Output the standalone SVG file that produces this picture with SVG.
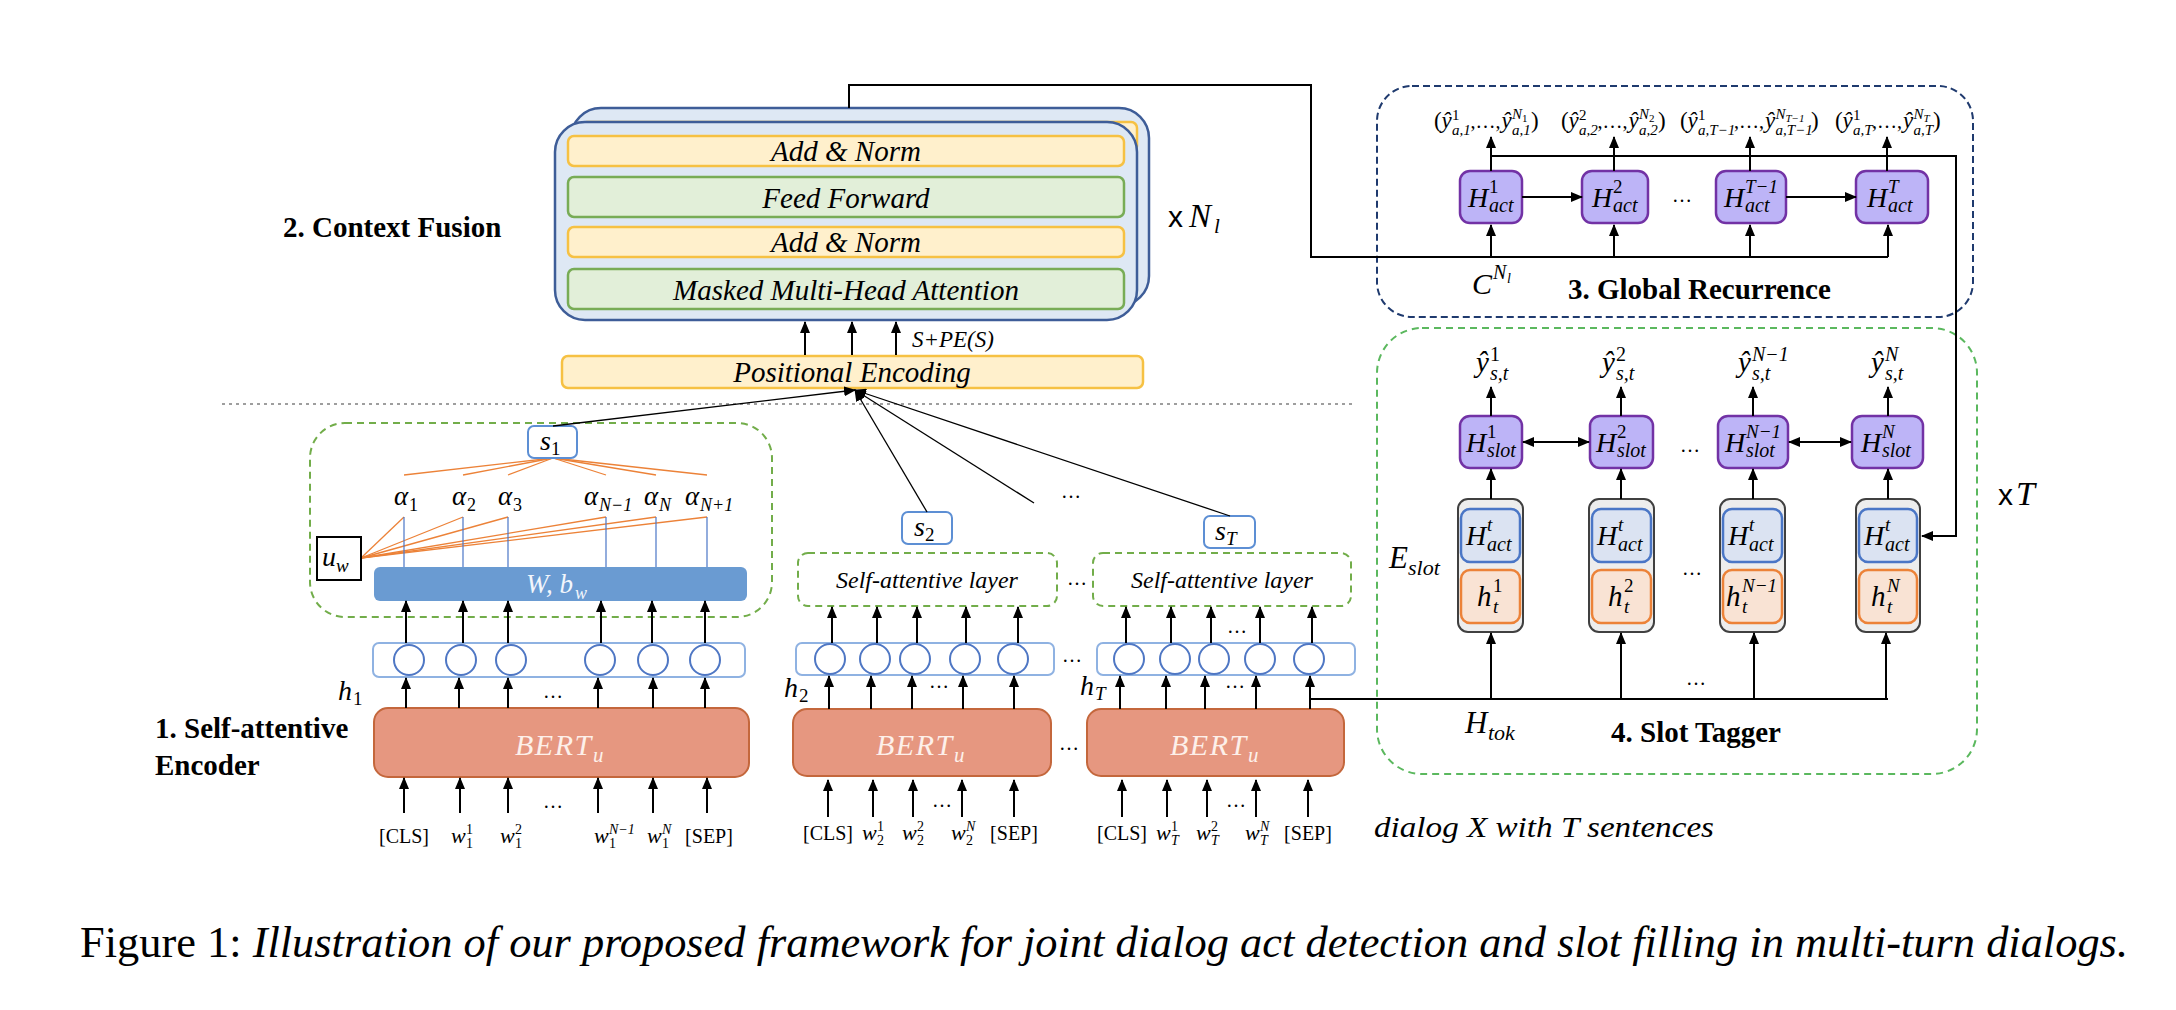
<svg xmlns="http://www.w3.org/2000/svg" width="2176" height="1010" viewBox="0 0 2176 1010">
<defs>
<marker id="ah" markerUnits="userSpaceOnUse" markerWidth="12" markerHeight="10" refX="11" refY="5" orient="auto-start-reverse"><path d="M0,0 L12,5 L0,10 z" fill="#000"/></marker>
</defs>
<style>
text{font-family:"Liberation Serif","Times New Roman",serif;fill:#000}
.mi{font-style:italic}
.b{font-weight:bold;font-size:29px}
.sans{font-family:"Liberation Sans",Arial,sans-serif}
.arr{stroke:#000;stroke-width:2;fill:none;marker-end:url(#ah)}
.dbl{stroke:#000;stroke-width:2;fill:none;marker-end:url(#ah);marker-start:url(#ah)}
.ln{stroke:#000;stroke-width:2;fill:none}
.thin{stroke:#000;stroke-width:1.3;fill:none;marker-end:url(#ah)}
.yel{fill:#fff0cc;stroke:#f6c143;stroke-width:2.5}
.grn{fill:#e2efd9;stroke:#78ac56;stroke-width:2.5}
.stack{fill:#dee8f4;stroke:#3e5d98;stroke-width:2.5}
.lay{font-style:italic;font-size:29px;text-anchor:middle}
.purp{fill:#bdb4f7;stroke:#7232a5;stroke-width:2.5}
.ecol{fill:#ededed;stroke:#404040;stroke-width:2}
.bin{fill:#dbe3f2;stroke:#4a76c6;stroke-width:2.5}
.oin{fill:#f9e3d4;stroke:#ec8238;stroke-width:2.5}
.sbox{fill:#fff;stroke:#5d8fd4;stroke-width:2}
.crow{fill:#fff;stroke:#8fb2e2;stroke-width:2}
.circ{fill:#fff;stroke:#4f77c4;stroke-width:2}
.bert{fill:#e69780;stroke:#c4673c;stroke-width:2}
.btxt{font-style:italic;font-size:30px;fill:#fdf0ea;letter-spacing:1.5px}
.wbar{fill:#6a9bd2}
.gdash{fill:none;stroke:#72ad4a;stroke-width:2;stroke-dasharray:7 5}
.ndash{fill:none;stroke:#1f3a6e;stroke-width:2;stroke-dasharray:7 4}
.sdash{fill:none;stroke:#5bb85e;stroke-width:2;stroke-dasharray:7 5}
.org{stroke:#ec8238;stroke-width:1.3}
.blu{stroke:#4a76c6;stroke-width:1.2}
.dots{font-size:20px;text-anchor:middle}
.tok{font-size:20px;text-anchor:middle}
.sa{font-style:italic;font-size:24px;text-anchor:middle}
.el{font-size:20px}
</style>

<!-- ===== Context Fusion ===== -->
<g id="context-fusion">
<rect x="571" y="108" width="578" height="198" rx="30" class="stack"/>
<rect x="581" y="122" width="556" height="30" rx="6" class="yel"/>
<rect x="555" y="122" width="582" height="198" rx="30" class="stack"/>
<rect x="568" y="136" width="556" height="30" rx="6" class="yel"/>
<rect x="568" y="177" width="556" height="40" rx="6" class="grn"/>
<rect x="568" y="227" width="556" height="30" rx="6" class="yel"/>
<rect x="568" y="269" width="556" height="40" rx="6" class="grn"/>
<text class="lay" x="846" y="161">Add &amp; Norm</text>
<text class="lay" x="846" y="208">Feed Forward</text>
<text class="lay" x="846" y="252">Add &amp; Norm</text>
<text class="lay" x="846" y="300">Masked Multi-Head Attention</text>
</g>
<g id="label-context-fusion"><text class="b" x="283" y="237">2. Context Fusion</text></g>
<g id="label-xNl">
<text class="sans" x="1168" y="227" font-size="30">x</text>
<text class="mi" x="1189" y="227" font-size="33">N<tspan x="1214" y="233" font-size="21">l</tspan></text>
</g>
<g id="positional-encoding">
<rect x="562" y="356" width="581" height="32" rx="6" class="yel"/>
<text class="lay" x="852" y="382">Positional Encoding</text>
</g>
<g id="label-spe"><text class="mi" x="912" y="347" font-size="23">S+PE(S)</text></g>

<line x1="222" y1="404" x2="1355" y2="404" stroke="#9e9e9e" stroke-width="2" stroke-dasharray="3 4"/>

<!-- ===== Global Recurrence ===== -->
<g id="global-recurrence">
<rect x="1377" y="86" width="596" height="231" rx="35" class="ndash"/>
<text class="b" x="1568" y="299">3. Global Recurrence</text>
<text class="mi" x="1472" y="294" font-size="30">C<tspan x="1493" y="279" font-size="20">N</tspan><tspan x="1507" y="283" font-size="14">l</tspan></text>
</g>
<g id="out-act-1">
<text font-size="23" y="128"><tspan x="1434" y="128">(</tspan><tspan x="1441.5" y="128" class="mi">ŷ</tspan><tspan x="1452" y="120" font-size="15">1</tspan><tspan x="1452" y="135" font-size="15" class="mi">a,1</tspan><tspan x="1470.5" y="128" class="el">,…,</tspan><tspan x="1501.5" y="128" class="mi">ŷ</tspan><tspan x="1512" y="119" font-size="15" class="mi">N</tspan><tspan x="1522" y="122" font-size="11">1</tspan><tspan x="1512" y="135" font-size="15" class="mi">a,1</tspan><tspan x="1531" y="128">)</tspan></text>
</g>
<g id="out-act-2">
<text font-size="23" y="128"><tspan x="1561" y="128">(</tspan><tspan x="1568.5" y="128" class="mi">ŷ</tspan><tspan x="1579" y="120" font-size="15">2</tspan><tspan x="1579" y="135" font-size="15" class="mi">a,2</tspan><tspan x="1597.5" y="128" class="el">,…,</tspan><tspan x="1628.5" y="128" class="mi">ŷ</tspan><tspan x="1639" y="119" font-size="15" class="mi">N</tspan><tspan x="1649" y="122" font-size="11">2</tspan><tspan x="1639" y="135" font-size="15" class="mi">a,2</tspan><tspan x="1658" y="128">)</tspan></text>
</g>
<g id="out-act-3">
<text font-size="23" y="128"><tspan x="1680" y="128">(</tspan><tspan x="1687.5" y="128" class="mi">ŷ</tspan><tspan x="1698" y="120" font-size="15">1</tspan><tspan x="1698" y="135" font-size="15" class="mi">a,T−1</tspan><tspan x="1734" y="128" class="el">,…,</tspan><tspan x="1765" y="128" class="mi">ŷ</tspan><tspan x="1775.5" y="119" font-size="15" class="mi">N</tspan><tspan x="1785.5" y="122" font-size="11" class="mi">T−1</tspan><tspan x="1775.5" y="135" font-size="15" class="mi">a,T−1</tspan><tspan x="1811" y="128">)</tspan></text>
</g>
<g id="out-act-4">
<text font-size="23" y="128"><tspan x="1835" y="128">(</tspan><tspan x="1842.5" y="128" class="mi">ŷ</tspan><tspan x="1853" y="120" font-size="15">1</tspan><tspan x="1853" y="135" font-size="15" class="mi">a,T</tspan><tspan x="1872" y="128" class="el">,…,</tspan><tspan x="1903" y="128" class="mi">ŷ</tspan><tspan x="1913.5" y="119" font-size="15" class="mi">N</tspan><tspan x="1923.5" y="122" font-size="11" class="mi">T</tspan><tspan x="1913.5" y="135" font-size="15" class="mi">a,T</tspan><tspan x="1933" y="128">)</tspan></text>
</g>
<g id="h-act-1"><rect x="1460" y="171" width="62" height="52" rx="10" class="purp"/>
<text class="mi" font-size="28"><tspan x="1468" y="207">H</tspan><tspan x="1489" y="193" font-size="19" font-style="normal">1</tspan><tspan x="1489" y="212" font-size="20">act</tspan></text></g>
<g id="h-act-2"><rect x="1582" y="171" width="66" height="52" rx="10" class="purp"/>
<text class="mi" font-size="28"><tspan x="1592" y="207">H</tspan><tspan x="1613" y="193" font-size="19" font-style="normal">2</tspan><tspan x="1613" y="212" font-size="20">act</tspan></text></g>
<g id="h-act-3"><rect x="1716" y="171" width="70" height="52" rx="10" class="purp"/>
<text class="mi" font-size="28"><tspan x="1724" y="207">H</tspan><tspan x="1745" y="193" font-size="19">T−1</tspan><tspan x="1745" y="212" font-size="20">act</tspan></text></g>
<g id="h-act-4"><rect x="1856" y="171" width="72" height="52" rx="10" class="purp"/>
<text class="mi" font-size="28"><tspan x="1867" y="207">H</tspan><tspan x="1888" y="193" font-size="19">T</tspan><tspan x="1888" y="212" font-size="20">act</tspan></text></g>
<text class="dots" x="1682" y="202">…</text>

<!-- ===== Slot Tagger ===== -->
<g id="slot-tagger">
<rect x="1377" y="328" width="600" height="446" rx="45" class="sdash"/>
<text class="b" x="1611" y="742">4. Slot Tagger</text>
<text class="mi" x="1465" y="733" font-size="31">H<tspan x="1488" y="740" font-size="22">tok</tspan></text>
<text class="mi" x="1389" y="568" font-size="31">E<tspan x="1408" y="575" font-size="22">slot</tspan></text>
<text class="dots" x="1690" y="452">…</text>
<text class="dots" x="1692" y="575">…</text>
<text class="dots" x="1696" y="685">…</text>
</g>
<g id="out-slot-1"><text class="mi" font-size="29"><tspan x="1476" y="372">ŷ</tspan><tspan x="1490" y="361" font-size="20" font-style="normal">1</tspan><tspan x="1490" y="380" font-size="20">s,t</tspan></text></g>
<g id="out-slot-2"><text class="mi" font-size="29"><tspan x="1602" y="372">ŷ</tspan><tspan x="1616" y="361" font-size="20" font-style="normal">2</tspan><tspan x="1616" y="380" font-size="20">s,t</tspan></text></g>
<g id="out-slot-3"><text class="mi" font-size="29"><tspan x="1738" y="372">ŷ</tspan><tspan x="1752" y="361" font-size="20">N−1</tspan><tspan x="1752" y="380" font-size="20">s,t</tspan></text></g>
<g id="out-slot-4"><text class="mi" font-size="29"><tspan x="1871" y="372">ŷ</tspan><tspan x="1885" y="361" font-size="20">N</tspan><tspan x="1885" y="380" font-size="20">s,t</tspan></text></g>

<g id="h-slot-1"><rect x="1460" y="416" width="62" height="52" rx="10" class="purp"/>
<text class="mi" font-size="28"><tspan x="1466" y="452">H</tspan><tspan x="1487" y="438" font-size="19" font-style="normal">1</tspan><tspan x="1487" y="457" font-size="20">slot</tspan></text></g>
<g id="h-slot-2"><rect x="1590" y="416" width="63" height="52" rx="10" class="purp"/>
<text class="mi" font-size="28"><tspan x="1596" y="452">H</tspan><tspan x="1617" y="438" font-size="19" font-style="normal">2</tspan><tspan x="1617" y="457" font-size="20">slot</tspan></text></g>
<g id="h-slot-3"><rect x="1718" y="416" width="70" height="52" rx="10" class="purp"/>
<text class="mi" font-size="28"><tspan x="1725" y="452">H</tspan><tspan x="1746" y="438" font-size="19">N−1</tspan><tspan x="1746" y="457" font-size="20">slot</tspan></text></g>
<g id="h-slot-4"><rect x="1852" y="416" width="71" height="52" rx="10" class="purp"/>
<text class="mi" font-size="28"><tspan x="1861" y="452">H</tspan><tspan x="1882" y="438" font-size="19">N</tspan><tspan x="1882" y="457" font-size="20">slot</tspan></text></g>

<g id="e-slot-1"><rect x="1458" y="499" width="65" height="133" rx="10" class="ecol"/>
<rect x="1461" y="509" width="59" height="53" rx="9" class="bin"/><rect x="1461" y="570" width="59" height="53" rx="9" class="oin"/>
<text class="mi" font-size="28"><tspan x="1466" y="545">H</tspan><tspan x="1487" y="531" font-size="19">t</tspan><tspan x="1487" y="551" font-size="20">act</tspan></text>
<text class="mi" font-size="29"><tspan x="1477" y="606">h</tspan><tspan x="1493" y="592" font-size="19" font-style="normal">1</tspan><tspan x="1493" y="613" font-size="19">t</tspan></text></g>
<g id="e-slot-2"><rect x="1589" y="499" width="65" height="133" rx="10" class="ecol"/>
<rect x="1592" y="509" width="59" height="53" rx="9" class="bin"/><rect x="1592" y="570" width="59" height="53" rx="9" class="oin"/>
<text class="mi" font-size="28"><tspan x="1597" y="545">H</tspan><tspan x="1618" y="531" font-size="19">t</tspan><tspan x="1618" y="551" font-size="20">act</tspan></text>
<text class="mi" font-size="29"><tspan x="1608" y="606">h</tspan><tspan x="1624" y="592" font-size="19" font-style="normal">2</tspan><tspan x="1624" y="613" font-size="19">t</tspan></text></g>
<g id="e-slot-3"><rect x="1720" y="499" width="65" height="133" rx="10" class="ecol"/>
<rect x="1723" y="509" width="59" height="53" rx="9" class="bin"/><rect x="1723" y="570" width="59" height="53" rx="9" class="oin"/>
<text class="mi" font-size="28"><tspan x="1728" y="545">H</tspan><tspan x="1749" y="531" font-size="19">t</tspan><tspan x="1749" y="551" font-size="20">act</tspan></text>
<text class="mi" font-size="29"><tspan x="1726" y="606">h</tspan><tspan x="1742" y="592" font-size="19">N−1</tspan><tspan x="1742" y="613" font-size="19">t</tspan></text></g>
<g id="e-slot-4"><rect x="1856" y="499" width="64" height="133" rx="10" class="ecol"/>
<rect x="1859" y="509" width="58" height="53" rx="9" class="bin"/><rect x="1859" y="570" width="58" height="53" rx="9" class="oin"/>
<text class="mi" font-size="28"><tspan x="1864" y="545">H</tspan><tspan x="1885" y="531" font-size="19">t</tspan><tspan x="1885" y="551" font-size="20">act</tspan></text>
<text class="mi" font-size="29"><tspan x="1871" y="606">h</tspan><tspan x="1887" y="592" font-size="19">N</tspan><tspan x="1887" y="613" font-size="19">t</tspan></text></g>
<g id="label-xT">
<text class="sans" x="1998" y="505" font-size="30">x</text>
<text class="mi" x="2016" y="505" font-size="34">T</text>
</g>

<!-- ===== Encoder group 1 ===== -->
<g id="self-attn-1">
<rect x="310" y="423" width="462" height="194" rx="35" class="gdash"/>
<g>
<line x1="553" y1="458" x2="404" y2="475" class="org"/><line x1="553" y1="458" x2="463" y2="475" class="org"/>
<line x1="553" y1="458" x2="508" y2="475" class="org"/><line x1="553" y1="458" x2="606" y2="475" class="org"/>
<line x1="553" y1="458" x2="656" y2="475" class="org"/><line x1="553" y1="458" x2="707" y2="475" class="org"/>
<line x1="361" y1="558" x2="404" y2="517" class="org"/><line x1="361" y1="558" x2="463" y2="517" class="org"/>
<line x1="361" y1="558" x2="508" y2="517" class="org"/><line x1="361" y1="558" x2="606" y2="517" class="org"/>
<line x1="361" y1="558" x2="656" y2="517" class="org"/><line x1="361" y1="558" x2="707" y2="517" class="org"/>
<line x1="404" y1="517" x2="404" y2="567" class="blu"/><line x1="463" y1="517" x2="463" y2="567" class="blu"/>
<line x1="508" y1="517" x2="508" y2="567" class="blu"/><line x1="606" y1="517" x2="606" y2="567" class="blu"/>
<line x1="656" y1="517" x2="656" y2="567" class="blu"/><line x1="707" y1="517" x2="707" y2="567" class="blu"/>
</g>
<text class="mi" font-size="27"><tspan x="394" y="505">α</tspan><tspan x="409" y="511" font-size="18" font-style="normal">1</tspan></text>
<text class="mi" font-size="27"><tspan x="452" y="505">α</tspan><tspan x="467" y="511" font-size="18" font-style="normal">2</tspan></text>
<text class="mi" font-size="27"><tspan x="498" y="505">α</tspan><tspan x="513" y="511" font-size="18" font-style="normal">3</tspan></text>
<text class="mi" font-size="27"><tspan x="584" y="505">α</tspan><tspan x="599" y="511" font-size="18">N−1</tspan></text>
<text class="mi" font-size="27"><tspan x="644" y="505">α</tspan><tspan x="659" y="511" font-size="18">N</tspan></text>
<text class="mi" font-size="27"><tspan x="685" y="505">α</tspan><tspan x="700" y="511" font-size="18">N+1</tspan></text>
<rect x="374" y="567" width="373" height="34" rx="6" class="wbar"/>
<text class="mi" font-size="27" style="fill:#f2f6fc"><tspan x="526" y="593">W, b</tspan><tspan x="575" y="599" font-size="18">w</tspan></text>
</g>
<g id="s1"><rect x="528" y="426" width="49" height="32" rx="6" class="sbox"/>
<text class="mi" font-size="28"><tspan x="540" y="450">s</tspan><tspan x="551" y="455" font-size="19" font-style="normal">1</tspan></text></g>
<g id="uw"><rect x="317" y="537" width="44" height="43" fill="#fff" stroke="#000" stroke-width="2"/>
<text class="mi" font-size="28"><tspan x="322" y="566">u</tspan><tspan x="336" y="572" font-size="19">w</tspan></text></g>
<g id="hidden-1"><rect x="373" y="643" width="372" height="34" rx="6" class="crow"/>
<circle cx="409" cy="660" r="15" class="circ"/><circle cx="461" cy="660" r="15" class="circ"/><circle cx="511" cy="660" r="15" class="circ"/>
<circle cx="600" cy="660" r="15" class="circ"/><circle cx="653" cy="660" r="15" class="circ"/><circle cx="705" cy="660" r="15" class="circ"/>
<text class="mi" font-size="28"><tspan x="338" y="700">h</tspan><tspan x="353" y="705" font-size="19" font-style="normal">1</tspan></text></g>
<g id="bert-1"><rect x="374" y="708" width="375" height="69" rx="14" class="bert"/>
<text class="btxt"><tspan x="515" y="755">BERT</tspan><tspan x="593" y="762" font-size="21">u</tspan></text></g>
<g id="inputs-1">
<text class="tok" x="404" y="843">[CLS]</text>
<text class="mi" font-size="22"><tspan x="451" y="843">w</tspan><tspan x="466" y="834" font-size="14" font-style="normal">1</tspan><tspan x="466" y="848" font-size="14" font-style="normal">1</tspan></text>
<text class="mi" font-size="22"><tspan x="500" y="843">w</tspan><tspan x="515" y="834" font-size="14" font-style="normal">2</tspan><tspan x="515" y="848" font-size="14" font-style="normal">1</tspan></text>
<text class="mi" font-size="22"><tspan x="594" y="843">w</tspan><tspan x="609" y="834" font-size="14">N−1</tspan><tspan x="609" y="848" font-size="14" font-style="normal">1</tspan></text>
<text class="mi" font-size="22"><tspan x="647" y="843">w</tspan><tspan x="662" y="834" font-size="14">N</tspan><tspan x="662" y="848" font-size="14" font-style="normal">1</tspan></text>
<text class="tok" x="709" y="843">[SEP]</text>
<text class="dots" x="553" y="808">…</text>
<text class="dots" x="553" y="698">…</text>
</g>
<g id="label-encoder"><text class="b" x="155" y="738">1. Self-attentive</text><text class="b" x="155" y="775">Encoder</text></g>

<!-- ===== Encoder group 2 ===== -->
<g id="s2"><rect x="902" y="512" width="50" height="32" rx="6" class="sbox"/>
<text class="mi" font-size="28"><tspan x="914" y="536">s</tspan><tspan x="925" y="541" font-size="19" font-style="normal">2</tspan></text></g>
<g id="self-attn-2"><rect x="798" y="553" width="259" height="53" rx="10" class="gdash"/>
<text class="sa" x="927" y="588">Self-attentive layer</text></g>
<g id="hidden-2"><rect x="796" y="643" width="258" height="32" rx="6" class="crow"/>
<circle cx="830" cy="659" r="15" class="circ"/><circle cx="875" cy="659" r="15" class="circ"/><circle cx="915" cy="659" r="15" class="circ"/>
<circle cx="965" cy="659" r="15" class="circ"/><circle cx="1013" cy="659" r="15" class="circ"/>
<text class="mi" font-size="28"><tspan x="784" y="697">h</tspan><tspan x="799" y="702" font-size="19" font-style="normal">2</tspan></text>
<text class="dots" x="939" y="688">…</text></g>
<g id="bert-2"><rect x="793" y="709" width="258" height="67" rx="14" class="bert"/>
<text class="btxt"><tspan x="876" y="755">BERT</tspan><tspan x="954" y="762" font-size="21">u</tspan></text></g>
<g id="inputs-2">
<text class="tok" x="828" y="840">[CLS]</text>
<text class="mi" font-size="22"><tspan x="862" y="840">w</tspan><tspan x="877" y="831" font-size="14" font-style="normal">1</tspan><tspan x="877" y="845" font-size="14" font-style="normal">2</tspan></text>
<text class="mi" font-size="22"><tspan x="902" y="840">w</tspan><tspan x="917" y="831" font-size="14" font-style="normal">2</tspan><tspan x="917" y="845" font-size="14" font-style="normal">2</tspan></text>
<text class="mi" font-size="22"><tspan x="951" y="840">w</tspan><tspan x="966" y="831" font-size="14">N</tspan><tspan x="966" y="845" font-size="14" font-style="normal">2</tspan></text>
<text class="tok" x="1014" y="840">[SEP]</text>
<text class="dots" x="942" y="807">…</text>
</g>

<!-- ===== Encoder group T ===== -->
<g id="sT"><rect x="1204" y="516" width="51" height="32" rx="6" class="sbox"/>
<text class="mi" font-size="28"><tspan x="1215" y="540">s</tspan><tspan x="1226" y="545" font-size="19">T</tspan></text></g>
<g id="self-attn-T"><rect x="1093" y="553" width="258" height="53" rx="10" class="gdash"/>
<text class="sa" x="1222" y="588">Self-attentive layer</text></g>
<g id="hidden-T"><rect x="1097" y="643" width="258" height="32" rx="6" class="crow"/>
<circle cx="1129" cy="659" r="15" class="circ"/><circle cx="1175" cy="659" r="15" class="circ"/><circle cx="1214" cy="659" r="15" class="circ"/>
<circle cx="1260" cy="659" r="15" class="circ"/><circle cx="1309" cy="659" r="15" class="circ"/>
<text class="mi" font-size="28"><tspan x="1080" y="695">h</tspan><tspan x="1095" y="700" font-size="19">T</tspan></text>
<text class="dots" x="1235" y="688">…</text>
<text class="dots" x="1237" y="633">…</text></g>
<g id="bert-T"><rect x="1087" y="709" width="257" height="67" rx="14" class="bert"/>
<text class="btxt"><tspan x="1170" y="755">BERT</tspan><tspan x="1248" y="762" font-size="21">u</tspan></text></g>
<g id="inputs-T">
<text class="tok" x="1122" y="840">[CLS]</text>
<text class="mi" font-size="22"><tspan x="1156" y="840">w</tspan><tspan x="1171" y="831" font-size="14" font-style="normal">1</tspan><tspan x="1171" y="845" font-size="14">T</tspan></text>
<text class="mi" font-size="22"><tspan x="1196" y="840">w</tspan><tspan x="1211" y="831" font-size="14" font-style="normal">2</tspan><tspan x="1211" y="845" font-size="14">T</tspan></text>
<text class="mi" font-size="22"><tspan x="1245" y="840">w</tspan><tspan x="1260" y="831" font-size="14">N</tspan><tspan x="1260" y="845" font-size="14">T</tspan></text>
<text class="tok" x="1308" y="840">[SEP]</text>
<text class="dots" x="1236" y="807">…</text>
</g>
<g id="misc-dots">
<text class="dots" x="1071" y="498">…</text>
<text class="dots" x="1077" y="585">…</text>
<text class="dots" x="1072" y="662">…</text>
<text class="dots" x="1069" y="750">…</text>
</g>
<g id="label-dialog"><text class="mi" x="1374" y="837" font-size="30" textLength="340" lengthAdjust="spacingAndGlyphs">dialog X with T sentences</text></g>

<!-- ===== Connectors ===== -->
<g id="connectors">
<path class="arr" d="M805,355V322"/><path class="arr" d="M852,355V322"/><path class="arr" d="M896,355V322"/>
<line class="thin" x1="553" y1="426" x2="855" y2="390"/>
<line class="thin" x1="927" y1="512" x2="855" y2="390"/>
<line class="thin" x1="1034" y1="503" x2="855" y2="390"/>
<line class="thin" x1="1230" y1="516" x2="855" y2="390"/>
<path class="ln" d="M849,108V85H1311V257H1888"/>
<path class="arr" d="M1491,257V225"/><path class="arr" d="M1614,257V225"/><path class="arr" d="M1750,257V225"/><path class="arr" d="M1888,257V225"/>
<path class="arr" d="M1491,171V137"/><path class="arr" d="M1614,171V137"/><path class="arr" d="M1750,171V137"/><path class="arr" d="M1887,171V137"/>
<path class="arr" d="M1522,197H1582"/><path class="arr" d="M1786,197H1856"/>
<path class="arr" d="M1491,156H1956V536H1922"/>
<path class="arr" d="M1491,416V387"/><path class="arr" d="M1621,416V387"/><path class="arr" d="M1753,416V387"/><path class="arr" d="M1888,416V387"/>
<path class="dbl" d="M1523,442H1589"/><path class="dbl" d="M1789,442H1851"/>
<path class="arr" d="M1491,499V469"/><path class="arr" d="M1621,499V469"/><path class="arr" d="M1753,499V469"/><path class="arr" d="M1888,499V469"/>
<path class="ln" d="M1310,699H1888"/>
<path class="arr" d="M1491,699V633"/><path class="arr" d="M1621,699V633"/><path class="arr" d="M1754,699V633"/><path class="arr" d="M1886,699V633"/>
<path class="arr" d="M406,643V601"/><path class="arr" d="M463,643V601"/><path class="arr" d="M508,643V601"/><path class="arr" d="M601,643V601"/><path class="arr" d="M652,643V601"/><path class="arr" d="M705,643V601"/>
<path class="arr" d="M406,708V678"/><path class="arr" d="M459,708V678"/><path class="arr" d="M508,708V678"/><path class="arr" d="M598,708V678"/><path class="arr" d="M653,708V678"/><path class="arr" d="M705,708V678"/>
<path class="arr" d="M404,813V778"/><path class="arr" d="M460,813V778"/><path class="arr" d="M508,813V778"/><path class="arr" d="M598,813V778"/><path class="arr" d="M653,813V778"/><path class="arr" d="M707,813V778"/>
<path class="arr" d="M832,643V607"/><path class="arr" d="M877,643V607"/><path class="arr" d="M917,643V607"/><path class="arr" d="M966,643V607"/><path class="arr" d="M1018,643V607"/>
<path class="arr" d="M829,709V676"/><path class="arr" d="M871,709V676"/><path class="arr" d="M912,709V676"/><path class="arr" d="M963,709V676"/><path class="arr" d="M1014,709V676"/>
<path class="arr" d="M828,817V780"/><path class="arr" d="M873,817V780"/><path class="arr" d="M913,817V780"/><path class="arr" d="M962,817V780"/><path class="arr" d="M1014,817V780"/>
<path class="arr" d="M1126,643V607"/><path class="arr" d="M1171,643V607"/><path class="arr" d="M1211,643V607"/><path class="arr" d="M1260,643V607"/><path class="arr" d="M1312,643V607"/>
<path class="arr" d="M1120,709V676"/><path class="arr" d="M1166,709V676"/><path class="arr" d="M1205,709V676"/><path class="arr" d="M1256,709V676"/><path class="arr" d="M1310,709V676"/>
<path class="arr" d="M1122,817V780"/><path class="arr" d="M1167,817V780"/><path class="arr" d="M1207,817V780"/><path class="arr" d="M1256,817V780"/><path class="arr" d="M1308,817V780"/>
</g>

<g id="caption"><text x="80" y="957" font-size="45" textLength="2048" lengthAdjust="spacingAndGlyphs">Figure 1: <tspan class="mi">Illustration of our proposed framework for joint dialog act detection and slot filling in multi-turn dialogs.</tspan></text></g>
</svg>
